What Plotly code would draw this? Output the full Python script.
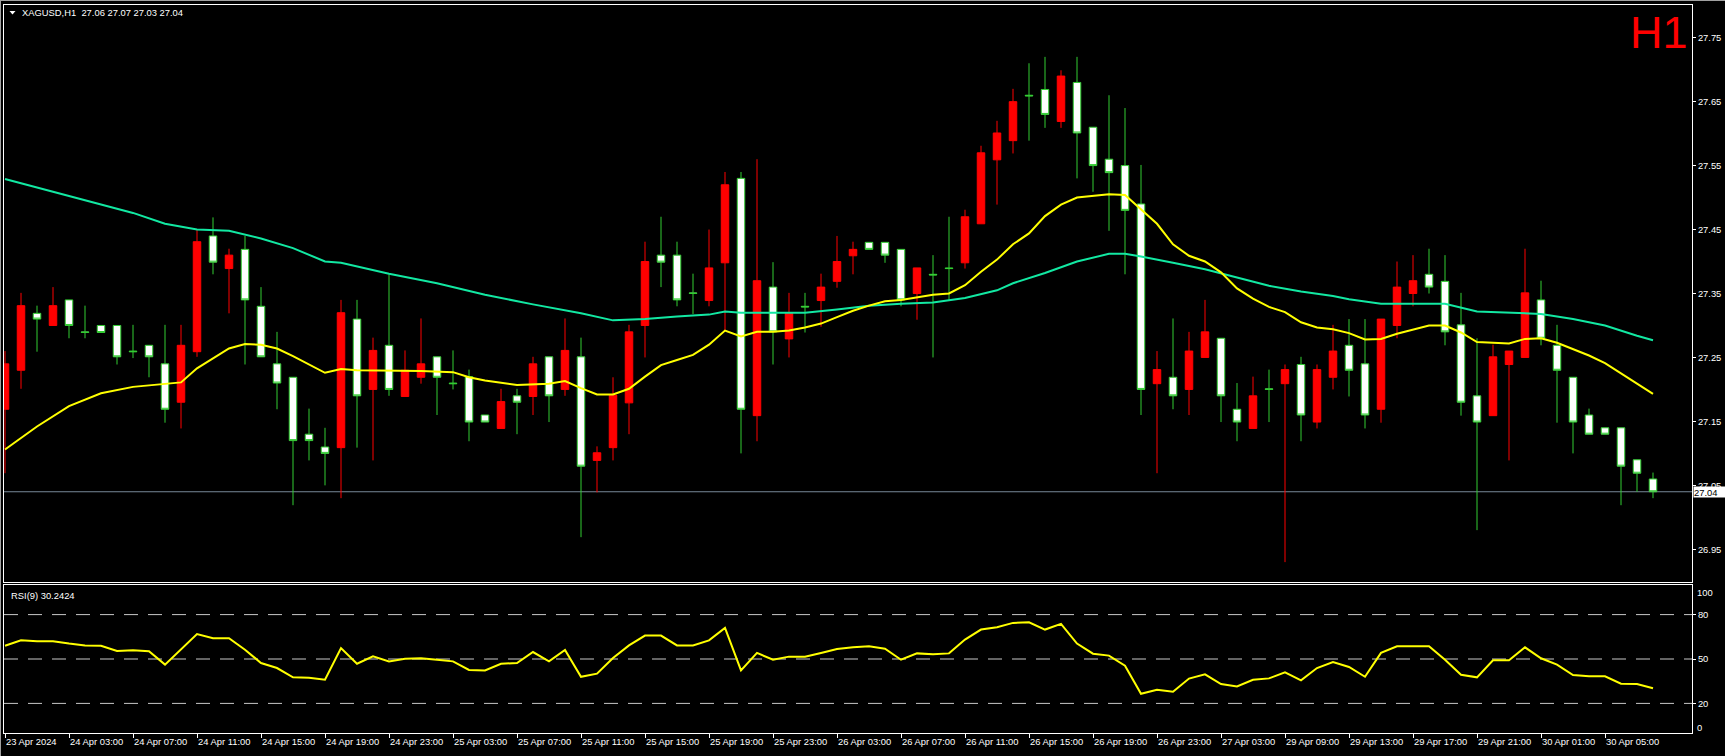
import plotly.graph_objects as go

# ---------------- data ----------------
opens = [27.169, 27.230, 27.319, 27.300, 27.340, 27.290, 27.300, 27.300, 27.260, 27.269,
         27.240, 27.180, 27.259, 27.440, 27.389, 27.419, 27.330, 27.240, 27.219, 27.130,
         27.110, 27.109, 27.310, 27.200, 27.269, 27.189, 27.219, 27.251, 27.210, 27.220,
         27.160, 27.139, 27.190, 27.189, 27.251, 27.200, 27.251, 27.089, 27.109, 27.179,
         27.300, 27.410, 27.410, 27.351, 27.339, 27.398, 27.530, 27.159, 27.360, 27.279,
         27.330, 27.339, 27.369, 27.409, 27.430, 27.430, 27.419, 27.350, 27.380, 27.390,
         27.398, 27.459, 27.559, 27.589, 27.660, 27.669, 27.619, 27.680, 27.610, 27.560,
         27.550, 27.490, 27.209, 27.219, 27.200, 27.250, 27.280, 27.169, 27.139, 27.201,
         27.209, 27.239, 27.149, 27.219, 27.269, 27.240, 27.169, 27.300, 27.350, 27.380,
         27.369, 27.301, 27.190, 27.159, 27.239, 27.250, 27.340, 27.269, 27.219, 27.160,
         27.140, 27.140, 27.090, 27.060]
highs = [27.260, 27.351, 27.331, 27.360, 27.340, 27.331, 27.300, 27.300, 27.301, 27.269,
         27.301, 27.301, 27.450, 27.469, 27.420, 27.440, 27.360, 27.290, 27.219, 27.170,
         27.140, 27.340, 27.340, 27.281, 27.380, 27.261, 27.311, 27.251, 27.261, 27.231,
         27.160, 27.201, 27.201, 27.251, 27.251, 27.311, 27.281, 27.111, 27.219, 27.301,
         27.431, 27.470, 27.431, 27.381, 27.450, 27.540, 27.540, 27.560, 27.399, 27.351,
         27.351, 27.381, 27.440, 27.431, 27.430, 27.430, 27.419, 27.390, 27.410, 27.470,
         27.481, 27.581, 27.620, 27.670, 27.710, 27.720, 27.699, 27.720, 27.610, 27.660,
         27.640, 27.551, 27.260, 27.311, 27.290, 27.340, 27.280, 27.210, 27.220, 27.231,
         27.239, 27.251, 27.239, 27.301, 27.310, 27.310, 27.310, 27.400, 27.410, 27.420,
         27.410, 27.351, 27.280, 27.270, 27.260, 27.420, 27.370, 27.301, 27.219, 27.170,
         27.140, 27.140, 27.090, 27.070]
lows = [27.069, 27.201, 27.259, 27.300, 27.280, 27.280, 27.289, 27.239, 27.249, 27.219,
        27.148, 27.139, 27.251, 27.380, 27.319, 27.239, 27.251, 27.169, 27.019, 27.089,
        27.050, 27.030, 27.109, 27.089, 27.190, 27.189, 27.209, 27.160, 27.200, 27.119,
        27.149, 27.139, 27.130, 27.160, 27.149, 27.190, 26.969, 27.039, 27.089, 27.130,
        27.250, 27.360, 27.330, 27.318, 27.330, 27.293, 27.100, 27.119, 27.239, 27.250,
        27.289, 27.298, 27.359, 27.380, 27.419, 27.398, 27.330, 27.309, 27.250, 27.340,
        27.389, 27.459, 27.489, 27.569, 27.589, 27.609, 27.609, 27.530, 27.509, 27.448,
        27.380, 27.160, 27.069, 27.169, 27.160, 27.250, 27.149, 27.119, 27.139, 27.149,
        26.930, 27.119, 27.139, 27.200, 27.189, 27.139, 27.148, 27.280, 27.330, 27.350,
        27.269, 27.159, 26.980, 27.159, 27.089, 27.250, 27.269, 27.148, 27.100, 27.130,
        27.130, 27.019, 27.040, 27.030]
closes = [27.240, 27.331, 27.310, 27.331, 27.300, 27.289, 27.289, 27.251, 27.259, 27.251,
          27.169, 27.269, 27.431, 27.399, 27.410, 27.340, 27.251, 27.210, 27.120, 27.120,
          27.100, 27.320, 27.190, 27.261, 27.200, 27.230, 27.240, 27.219, 27.209, 27.149,
          27.149, 27.181, 27.180, 27.240, 27.190, 27.261, 27.080, 27.101, 27.191, 27.290,
          27.400, 27.399, 27.340, 27.350, 27.390, 27.520, 27.169, 27.370, 27.290, 27.319,
          27.329, 27.360, 27.400, 27.419, 27.419, 27.410, 27.340, 27.390, 27.379, 27.389,
          27.470, 27.570, 27.601, 27.650, 27.659, 27.630, 27.690, 27.601, 27.550, 27.539,
          27.480, 27.200, 27.231, 27.190, 27.260, 27.290, 27.190, 27.149, 27.190, 27.200,
          27.231, 27.160, 27.231, 27.260, 27.230, 27.160, 27.310, 27.360, 27.370, 27.360,
          27.290, 27.180, 27.149, 27.251, 27.260, 27.351, 27.280, 27.230, 27.149, 27.130,
          27.130, 27.080, 27.069, 27.040]

# fast moving average (yellow), read at bar indices
ma_fast_idx = [0, 2, 4, 6, 8, 10, 11, 12, 14, 15, 16, 17, 18, 20, 21, 22, 24, 26, 28, 29,
               30, 32, 34, 35, 36, 37, 38, 39, 40, 41, 42, 43, 44, 45, 46, 47, 48, 49, 50, 51,
               52, 53, 54, 55, 56, 57, 58, 59, 60, 61, 62, 63, 64, 65, 66, 67, 68, 69, 70, 71,
               72, 73, 74, 75, 76, 77, 78, 79, 80, 81, 82, 83, 84, 85, 86, 87, 88, 89, 90, 91,
               92, 93, 94, 95, 96, 97, 98, 99, 100, 101, 102, 103]
ma_fast_val = [27.106, 27.142, 27.174, 27.194, 27.204, 27.208, 27.211, 27.233, 27.264, 27.271,
               27.270, 27.264, 27.252, 27.226, 27.232, 27.230, 27.230, 27.229, 27.227, 27.219,
               27.214, 27.207, 27.209, 27.213, 27.202, 27.192, 27.192, 27.201, 27.220, 27.238,
               27.246, 27.254, 27.270, 27.292, 27.283, 27.290, 27.290, 27.292, 27.297, 27.303,
               27.313, 27.323, 27.331, 27.338, 27.340, 27.344, 27.348, 27.350, 27.363, 27.384,
               27.403, 27.427, 27.444, 27.471, 27.489, 27.500, 27.502, 27.505, 27.504, 27.482,
               27.459, 27.427, 27.409, 27.400, 27.383, 27.358, 27.342, 27.329, 27.321, 27.305,
               27.297, 27.294, 27.288, 27.278, 27.279, 27.287, 27.294, 27.300, 27.300, 27.289,
               27.274, 27.273, 27.272, 27.279, 27.280, 27.273, 27.263, 27.253, 27.241, 27.225,
               27.210, 27.193]

# slow moving average (teal), read at bar indices
ma_slow_idx = [0, 2, 4, 6, 8, 10, 12, 14, 16, 18, 20, 21, 24, 27, 30, 33, 36, 38, 40, 42,
               44, 45, 46, 48, 50, 52, 54, 56, 58, 60, 62, 63, 65, 67, 69, 70, 71, 73, 75, 77,
               79, 81, 83, 84, 86, 88, 90, 92, 94, 96, 98, 100, 102, 103]
ma_slow_val = [27.529, 27.516, 27.503, 27.489, 27.476, 27.459, 27.450, 27.448, 27.436, 27.421,
               27.400, 27.398, 27.381, 27.366, 27.348, 27.333, 27.319, 27.308, 27.310, 27.314,
               27.317, 27.322, 27.320, 27.320, 27.320, 27.325, 27.331, 27.334, 27.336, 27.343,
               27.355, 27.366, 27.382, 27.400, 27.412, 27.412, 27.408, 27.398, 27.388, 27.375,
               27.362, 27.353, 27.346, 27.341, 27.334, 27.334, 27.334, 27.322, 27.320, 27.318,
               27.310, 27.300, 27.284, 27.277]

rsi_vals = [59.0, 62.6, 62.0, 62.0, 60.4, 59.2, 59.0, 55.4, 55.9, 55.2,
            46.2, 56.3, 66.9, 64.0, 64.0, 56.3, 47.3, 43.9, 37.6, 37.4,
            36.0, 57.4, 46.8, 51.8, 48.4, 50.2, 50.5, 49.5, 48.4, 42.6,
            42.3, 46.8, 47.3, 54.7, 48.4, 56.1, 38.0, 40.1, 50.7, 59.2,
            65.8, 65.8, 59.2, 59.2, 62.6, 71.0, 42.3, 54.1, 49.5, 51.6,
            51.6, 54.1, 56.8, 57.9, 58.6, 57.0, 49.5, 53.8, 53.2, 53.8,
            63.1, 69.9, 71.4, 74.4, 74.8, 69.9, 73.7, 60.4, 53.6, 52.3,
            45.5, 26.5, 29.2, 27.9, 36.8, 39.6, 33.1, 31.5, 36.0, 36.9,
            41.0, 35.6, 43.9, 48.0, 44.6, 38.0, 54.1, 58.6, 58.6, 58.6,
            49.5, 39.4, 37.6, 49.1, 49.1, 57.9, 50.5, 46.2, 39.2, 38.3,
            38.3, 33.3, 33.1, 30.2424]

time_tick_idx = [0, 4, 8, 12, 16, 20, 24, 28, 32, 36, 40, 44, 48, 52, 56, 60, 64, 68, 72,
                 76, 80, 84, 88, 92, 96, 100]
time_tick_text = ["23 Apr 2024", "24 Apr 03:00", "24 Apr 07:00", "24 Apr 11:00",
                  "24 Apr 15:00", "24 Apr 19:00", "24 Apr 23:00", "25 Apr 03:00",
                  "25 Apr 07:00", "25 Apr 11:00", "25 Apr 15:00", "25 Apr 19:00",
                  "25 Apr 23:00", "26 Apr 03:00", "26 Apr 07:00", "26 Apr 11:00",
                  "26 Apr 15:00", "26 Apr 19:00", "26 Apr 23:00", "27 Apr 03:00",
                  "29 Apr 09:00", "29 Apr 13:00", "29 Apr 17:00", "29 Apr 21:00",
                  "30 Apr 01:00", "30 Apr 05:00"]

price_ticks = [26.95, 27.05, 27.15, 27.25, 27.35, 27.45, 27.55, 27.65, 27.75]
rsi_ticks = [20, 50, 80]
rsi_levels = [20, 50, 80]

symbol = "XAGUSD"
timeframe = "H1"

# ---------------- layout geometry (pixels) ----------------
W, H = 1725, 756
PL, PR, PT, PB = 4, 1692, 5, 733
MAIN_BOTTOM_PX, RSI_TOP_PX = 582, 585
BAR0_PX, BAR_STEP = 5, 16


def fx(px):
    return (px - PL) / (PR - PL)


def fy(py):
    return (PB - py) / (PB - PT)


x_idx = list(range(len(opens)))
x_range = [(PL - BAR0_PX) / BAR_STEP, (PR - BAR0_PX) / BAR_STEP]

FONT = "Liberation Sans, Arial, sans-serif"
FS = 9.4

fig = go.Figure()
fig.add_trace(go.Candlestick(
    x=x_idx, open=opens, high=highs, low=lows, close=closes,
    increasing=dict(line=dict(color="#FF0000", width=1), fillcolor="#FF0000"),
    decreasing=dict(line=dict(color="#32CD32", width=1), fillcolor="#FFFFFF"),
    whiskerwidth=0, xaxis="x", yaxis="y", hoverinfo="skip", name="price"))
fig.add_trace(go.Scatter(x=ma_slow_idx, y=ma_slow_val, mode="lines",
                         line=dict(color="#12E8A2", width=2), xaxis="x", yaxis="y",
                         hoverinfo="skip"))
fig.add_trace(go.Scatter(x=ma_fast_idx, y=ma_fast_val, mode="lines",
                         line=dict(color="#FFFF00", width=2), xaxis="x", yaxis="y",
                         hoverinfo="skip"))
fig.add_trace(go.Scatter(x=x_idx, y=rsi_vals, mode="lines",
                         line=dict(color="#FFFF00", width=2), xaxis="x2", yaxis="y2",
                         hoverinfo="skip"))

axis_common = dict(showgrid=False, zeroline=False, showline=True, mirror=True,
                   linecolor="white", linewidth=1, fixedrange=True)
tickfont = dict(family=FONT, size=FS, color="white")

fig.update_layout(
    width=W, height=H,
    margin=dict(l=PL, r=W - PR, t=PT, b=H - PB, pad=0),
    paper_bgcolor="black", plot_bgcolor="black",
    showlegend=False,
    boxgap=0.33,
    xaxis=dict(domain=[0, 1], range=x_range, anchor="y", showticklabels=False, ticks="",
               rangeslider=dict(visible=False), **axis_common),
    xaxis2=dict(domain=[0, 1], range=x_range, anchor="y2", tickmode="array",
                tickvals=time_tick_idx, ticktext=time_tick_text, ticks="outside",
                ticklen=4, tickcolor="white", tickfont=tickfont,
                ticklabelposition="outside right", **axis_common),
    yaxis=dict(domain=[fy(MAIN_BOTTOM_PX), 1], range=[26.8989, 27.8011], anchor="x",
               side="right", tickmode="array", tickvals=price_ticks,
               ticktext=[f"{v:.2f}" for v in price_ticks], ticks="outside", ticklen=3,
               tickcolor="white", tickfont=tickfont, **axis_common),
    yaxis2=dict(domain=[0, fy(RSI_TOP_PX)], range=[0, 100], anchor="x2", side="right",
                tickmode="array", tickvals=rsi_ticks, ticktext=[str(v) for v in rsi_ticks],
                ticks="outside", ticklen=3, tickcolor="white", tickfont=tickfont,
                **axis_common),
)

shapes = []
for lv in rsi_levels:
    shapes.append(dict(type="line", xref="paper", x0=0, x1=1, yref="y2", y0=lv, y1=lv,
                       line=dict(color="#C8C8C8", width=1, dash="14px,10px"), layer="below"))
shapes.append(dict(type="line", xref="paper", x0=0, x1=1, yref="y",
                   y0=closes[-1], y1=closes[-1], line=dict(color="#778899", width=1),
                   layer="below"))
# small menu triangle in the header
shapes.append(dict(type="path", xref="paper", yref="paper",
                   path=f"M {fx(9.5)},{fy(11)} L {fx(15.5)},{fy(11)} L {fx(12.5)},{fy(14.5)} Z",
                   fillcolor="white", line=dict(width=0)))
# outer window edges
shapes.append(dict(type="line", xref="paper", yref="paper", x0=fx(0), x1=fx(W),
                   y0=fy(0.5), y1=fy(0.5), line=dict(color="#A0A0A0", width=1)))
shapes.append(dict(type="line", xref="paper", yref="paper", x0=fx(0.5), x1=fx(0.5),
                   y0=fy(0), y1=fy(H), line=dict(color="#A0A0A0", width=1)))
fig.update_layout(shapes=shapes)

header = (f"{symbol},{timeframe}\u00a0\u00a0{opens[-1]:.2f} {highs[-1]:.2f} "
          f"{lows[-1]:.2f} {closes[-1]:.2f}")
annotations = [
    dict(text=header, xref="paper", yref="paper", x=fx(20), y=fy(12.7), xanchor="left",
         yanchor="middle", showarrow=False, font=dict(family=FONT, size=FS, color="white")),
    dict(text=f"RSI(9) {rsi_vals[-1]:.4f}", xref="paper", yref="paper", x=fx(9), y=fy(595),
         xanchor="left", yanchor="middle", showarrow=False,
         font=dict(family=FONT, size=FS, color="white")),
    dict(text=timeframe, xref="paper", yref="paper", x=fx(1690), y=fy(32.5), xanchor="right",
         yanchor="middle", showarrow=False,
         font=dict(family=FONT, size=45, color="#FF0000")),
    dict(text=f"{closes[-1]:.2f}", xref="paper", yref="y", x=1, y=closes[-1],
         xanchor="left", yanchor="middle", xshift=1, showarrow=False, bgcolor="white",
         borderpad=0, width=31, height=10, align="left",
         font=dict(family=FONT, size=FS, color="black")),
    dict(text="100", xref="paper", yref="paper", x=1, y=fy(592), xanchor="left",
         yanchor="middle", xshift=3, showarrow=False, font=tickfont),
    dict(text="0", xref="paper", yref="paper", x=1, y=fy(727), xanchor="left",
         yanchor="middle", xshift=3, showarrow=False, font=tickfont),
]
fig.update_layout(annotations=annotations)

page_fix = ("document.body.style.margin='0';document.body.style.padding='0';"
            "document.body.style.overflow='hidden';")
fig.write_html("out.html", post_script=page_fix,
               config={"displayModeBar": False, "staticPlot": True})
